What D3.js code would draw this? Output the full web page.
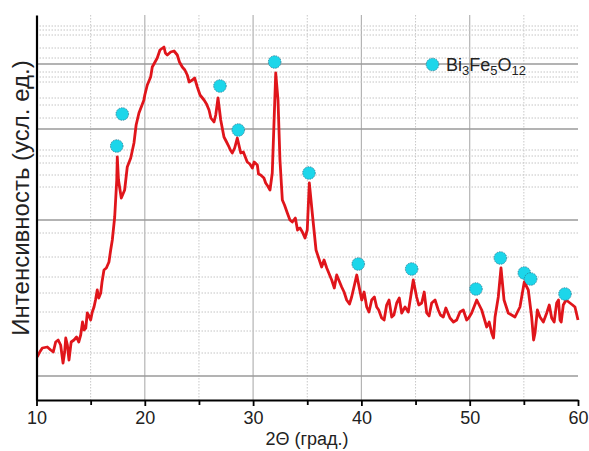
<!DOCTYPE html>
<html><head><meta charset="utf-8">
<script src="https://cdn.jsdelivr.net/npm/d3@7"></script>
<style>
body{margin:0;background:#fff;}
svg{display:block;font-family:"Liberation Sans",Arial,sans-serif;}
</style></head>
<body><svg id="c" width="589" height="451"></svg>
<script>
// XRD pattern: 2θ (degrees) and intensity (arb. units)
const twoTheta = [
 10.07,10.3,10.54,11.0,11.31,11.55,11.77,12.0,12.23,12.45,12.6,12.70,12.85,13.0,13.2,13.46,13.7,13.9,14.08,14.25,
 14.39,14.55,14.69,14.85,15.0,15.15,15.31,15.45,15.61,15.75,15.93,16.05,16.23,16.45,16.69,16.85,17.0,17.22,17.41,17.46,
 17.57,17.83,18.14,18.38,18.70,19.0,19.2,19.46,19.92,20.0,20.23,20.54,20.69,21.15,21.4,21.77,21.9,22.08,22.39,22.7,
 23.0,23.2,23.46,23.7,23.92,24.1,24.39,24.6,24.85,25.1,25.47,25.7,25.93,26.1,26.39,26.55,26.76,27.01,27.31,27.55,
 27.78,27.9,28.08,28.3,28.54,28.86,29.1,29.46,29.7,29.93,30.1,30.39,30.5,30.70,31.0,31.16,31.35,31.56,31.77,32.09,
 32.30,32.48,32.70,32.9,33.16,33.4,33.62,33.9,34.1,34.33,34.55,34.79,35.0,35.19,35.50,35.81,36.33,36.55,36.80,37.26,
 37.5,37.72,38.18,38.4,38.64,38.9,39.10,39.57,40.03,40.25,40.49,40.7,40.95,41.2,41.41,41.6,41.87,42.1,42.33,42.55,
 42.80,43.0,43.26,43.5,43.72,44.03,44.33,44.79,45.10,45.3,45.57,45.8,46.03,46.25,46.49,46.8,47.10,47.3,47.56,47.8,
 48.18,48.5,48.80,49.1,49.41,49.72,49.9,50.18,50.65,51.11,51.57,51.8,52.03,52.2,52.34,52.64,52.89,53.17,53.56,54.18,
 54.64,55.04,55.41,55.72,55.9,56.03,56.25,56.49,56.8,57.11,57.35,57.57,57.8,58.03,58.2,58.34,58.45,58.64,58.9,59.26,
 59.5,59.72,60.0];
const intensity = [
 43,48,52,53,50,48,58,60,55,37,48,62,55,40,58,60,63,58,65,78,
 70,72,87,84,80,88,93,100,110,102,107,118,130,132,138,150,160,183,220,243,
 220,202,210,233,242,257,275,287,300,305,315,323,333,342,350,353,347,345,348,349,
 345,338,333,330,325,318,320,322,313,305,300,296,290,282,278,285,302,280,263,258,
 253,250,247,252,262,247,248,238,236,232,238,235,226,225,222,217,214,210,227,327,
 300,240,200,195,187,180,178,182,170,172,168,162,170,217,183,150,133,140,132,120,
 112,125,113,108,100,96,103,125,100,108,93,88,100,103,93,90,82,80,95,100,
 83,85,97,102,87,93,88,120,103,95,97,108,87,84,97,100,90,85,83,92,
 82,78,80,88,90,80,82,87,100,90,73,78,67,62,83,103,132,100,87,83,
 93,118,110,83,60,67,90,83,78,87,95,82,78,97,100,80,78,95,100,97,
 95,93,80];
// Bi3Fe5O12 reflection markers
const peakTheta = [17.41,17.92,26.94,28.63,31.99,35.16,39.71,44.64,50.58,52.83,55.04,55.63,58.80];
const peakLevel = [254,286,314,270,338,227,136,131,111,142,127,121,106];
// axis ticks / gridlines
const xMajor = [10,20,30,40,50,60];
const xMinor = [15,25,35,45,55];
const ySolidGrid = [24,180,271,336];
const yDottedGrid = [47,69,88,107,123,143,167,213,225,237,244,250,282,295,302,318,323,328,342,352,365,370,374];
const xLabel = "2Θ (град.)";
const yLabel = "Интенсивность (усл. ед.)";

const svg = d3.select("#c");
const x = d3.scaleLinear().domain([10,60]).range([36.5,578]);
const y = d3.scaleLinear().domain([0,385]).range([400,15]);

const grid = svg.append("g");
grid.selectAll(".vd").data(xMinor).join("line")
  .attr("x1",d=>x(d)).attr("x2",d=>x(d)).attr("y1",y(385)).attr("y2",y(0))
  .attr("stroke","#c8c8c8").attr("stroke-width",1).attr("stroke-dasharray","1.5,1.5");
grid.selectAll(".vs").data(xMajor.slice(1,-1)).join("line")
  .attr("x1",d=>x(d)).attr("x2",d=>x(d)).attr("y1",y(385)).attr("y2",y(0))
  .attr("stroke","#b4b4b4").attr("stroke-width",1.2);
grid.selectAll(".hd").data(yDottedGrid).join("line")
  .attr("x1",x(10)).attr("x2",x(60)).attr("y1",d=>y(d)).attr("y2",d=>y(d))
  .attr("stroke","#c4c4c4").attr("stroke-width",1).attr("stroke-dasharray","1.5,1.5");
grid.selectAll(".hs").data(ySolidGrid).join("line")
  .attr("x1",x(10)).attr("x2",x(60)).attr("y1",d=>y(d)).attr("y2",d=>y(d))
  .attr("stroke","#9a9a9a").attr("stroke-width",1.3);

// curve
const pts = twoTheta.map((t,i)=>[t,intensity[i]]);
svg.append("path").datum(pts)
  .attr("d", d3.line().x(d=>x(d[0])).y(d=>y(d[1])))
  .attr("fill","none").attr("stroke","#e0151b").attr("stroke-width",2.8)
  .attr("stroke-linejoin","round");

// markers
const mk = peakTheta.map((t,i)=>[t,peakLevel[i]]);
svg.append("g").selectAll("circle").data(mk).join("circle")
  .attr("cx",d=>x(d[0])).attr("cy",d=>y(d[1])).attr("r",6.3)
  .attr("fill","#1cd6ea").attr("stroke","#2d7b93").attr("stroke-width",0.8)
  .attr("stroke-dasharray","1.5,1");

// axes
const ax = svg.append("g").attr("transform",`translate(0,${y(0)})`)
  .call(d3.axisBottom(x).tickValues(xMajor).tickSize(6).tickSizeOuter(0).tickPadding(5).tickFormat(d3.format("d")));
ax.select(".domain").attr("stroke","#000").attr("stroke-width",2.2);
ax.selectAll(".tick line").attr("stroke","#000").attr("stroke-width",1.8);
ax.selectAll(".tick text").attr("font-size",18).attr("fill","#222").attr("font-family","Liberation Sans, Arial, sans-serif");
const axm = svg.append("g").attr("transform",`translate(0,${y(0)})`)
  .call(d3.axisBottom(x).tickValues(xMinor).tickSize(5).tickFormat(""));
axm.select(".domain").remove();
axm.selectAll(".tick line").attr("stroke","#000").attr("stroke-width",1.8);
const ay = svg.append("g").attr("transform",`translate(${x(10)},0)`)
  .call(d3.axisLeft(y).tickValues([]).tickSizeOuter(0));
ay.select(".domain").attr("stroke","#000").attr("stroke-width",2.2);

// labels
svg.append("text").attr("x",307).attr("y",445).attr("text-anchor","middle")
  .attr("font-size",18).attr("fill","#222").text(xLabel);
svg.append("text").attr("transform","translate(29,198) rotate(-90)").attr("text-anchor","middle")
  .attr("font-size",24).attr("fill","#222").text(yLabel);

// legend
const lg = svg.append("g");
lg.append("circle").attr("cx",432.5).attr("cy",64.5).attr("r",6.3)
  .attr("fill","#1cd6ea").attr("stroke","#2d7b93").attr("stroke-width",0.8).attr("stroke-dasharray","1.5,1");
const lt = lg.append("text").attr("x",446).attr("y",71).attr("font-size",18).attr("fill","#222");
lt.append("tspan").text("Bi");
lt.append("tspan").attr("font-size",13).attr("dy",4).text("3");
lt.append("tspan").attr("dy",-4).text("Fe");
lt.append("tspan").attr("font-size",13).attr("dy",4).text("5");
lt.append("tspan").attr("dy",-4).text("O");
lt.append("tspan").attr("font-size",13).attr("dy",4).text("12");
</script></body></html>
